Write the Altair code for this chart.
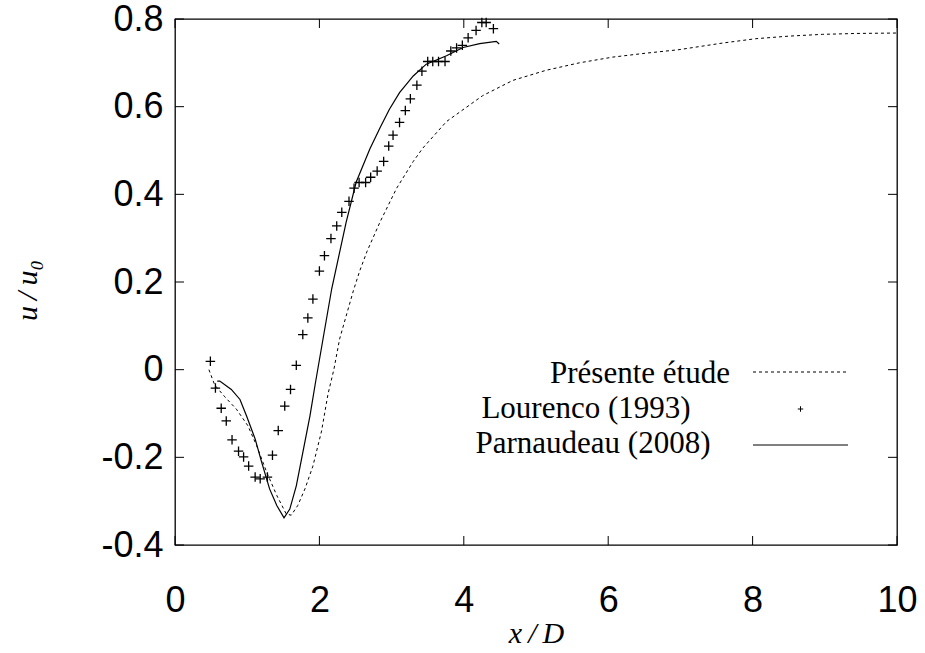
import altair as alt
import pandas as pd

# ---- data ----
present_x = [0.47, 0.55, 0.69, 0.85, 1.01, 1.13, 1.27, 1.41, 1.54, 1.61, 1.70, 1.80, 1.91,
             2.03, 2.12, 2.20, 2.28, 2.47, 2.56, 2.66, 2.84, 3.07, 3.30, 3.43, 3.76, 4.26,
             4.68, 5.14, 5.60, 6.06, 6.52, 6.98, 7.58, 8.04, 8.51, 8.97, 9.43, 10.0]
present_y = [0.000, -0.035, -0.062, -0.090, -0.128, -0.173, -0.234, -0.287, -0.329, -0.332,
             -0.310, -0.272, -0.220, -0.140, -0.055, 0.000, 0.070, 0.180, 0.226, 0.270,
             0.337, 0.414, 0.475, 0.505, 0.566, 0.625, 0.660, 0.683, 0.700, 0.713, 0.722,
             0.730, 0.745, 0.755, 0.761, 0.765, 0.767, 0.768]

parn_x = [0.585, 0.62, 0.78, 0.90, 0.99, 1.11, 1.20, 1.31, 1.41, 1.51, 1.59, 1.68, 1.77,
          1.87, 1.94, 2.05, 2.17, 2.37, 2.51, 2.70, 2.84, 2.97, 3.11, 3.30, 3.48, 3.76,
          3.99, 4.22, 4.45, 4.49]
parn_y = [-0.026, -0.026, -0.045, -0.068, -0.105, -0.158, -0.211, -0.272, -0.310, -0.338,
          -0.318, -0.265, -0.189, -0.105, -0.035, 0.070, 0.184, 0.336, 0.428, 0.504, 0.552,
          0.594, 0.632, 0.670, 0.697, 0.716, 0.735, 0.744, 0.749, 0.743]

lour_x = [0.49, 0.56, 0.64, 0.71, 0.79, 0.88, 0.95, 1.02, 1.11, 1.18, 1.28, 1.35, 1.43,
          1.52, 1.60, 1.68, 1.77, 1.84, 1.91, 2.00, 2.07, 2.16, 2.24, 2.31, 2.41, 2.48,
          2.55, 2.64, 2.71, 2.80, 2.89, 2.96, 3.02, 3.11, 3.19, 3.26, 3.35, 3.42, 3.50,
          3.57, 3.65, 3.74, 3.82, 3.90, 3.98, 4.06, 4.17, 4.25, 4.31, 4.41]
lour_y = [0.019, -0.042, -0.088, -0.117, -0.160, -0.186, -0.199, -0.220, -0.245, -0.249,
          -0.245, -0.195, -0.139, -0.083, -0.045, 0.010, 0.080, 0.118, 0.161, 0.225, 0.260,
          0.299, 0.328, 0.359, 0.384, 0.414, 0.427, 0.427, 0.439, 0.453, 0.475, 0.510,
          0.535, 0.564, 0.591, 0.618, 0.649, 0.681, 0.703, 0.703, 0.703, 0.703, 0.727,
          0.734, 0.740, 0.757, 0.774, 0.792, 0.792, 0.778]

x_ticks = [0, 2, 4, 6, 8, 10]
y_ticks = [-0.4, -0.2, 0.0, 0.2, 0.4, 0.6, 0.8]
legend_labels = ["Présente étude", "Lourenco (1993)", "Parnaudeau (2008)"]

# ---- layout ----
W, H = 722, 526
PL, PT = 175, 19
SANS = "Liberation Sans"
SERIF = "Liberation Serif"
PLUS = "M-1,0L1,0M0,-1L0,1"
THIN = "\u2009"

xs = alt.Scale(domain=[0, 10], nice=False, zero=False)
ys = alt.Scale(domain=[-0.4, 0.8], nice=False, zero=False)

df_p = pd.DataFrame({"x": present_x, "y": present_y})
df_n = pd.DataFrame({"x": parn_x, "y": parn_y})
df_l = pd.DataFrame({"x": lour_x, "y": lour_y})

x_axis = alt.Axis(values=x_ticks, ticks=False, domain=False, grid=False,
                  labelFont=SANS, labelFontSize=36, labelColor="black", labelPadding=38,
                  labelFlush=False,
                  title="x" + THIN + "/" + THIN + "D", titleFont=SERIF, titleFontStyle="italic",
                  titleFontWeight="normal", titleFontSize=30, titleColor="black",
                  titleBaseline="middle", titleY=88)
y_axis = alt.Axis(values=y_ticks, ticks=False, domain=False, grid=False,
                  labelFont=SANS, labelFontSize=36, labelColor="black", labelPadding=12,
                  labelFlush=False,
                  labelExpr="datum.value == 0 ? '0' : replace(format(datum.value, '.1f'), '\u2212', '-')",
                  title="u" + THIN + "/" + THIN + "u\u2080", titleFont=SERIF, titleFontStyle="italic",
                  titleFontWeight="normal", titleFontSize=30, titleColor="black",
                  titleAngle=270, titleAlign="center", titleBaseline="middle",
                  titleX=27 - PL, titleY=290 - PT)

def X(field):
    return alt.X(field, scale=xs, axis=x_axis)

def Y(field):
    return alt.Y(field, scale=ys, axis=y_axis)

present = alt.Chart(df_p).mark_line(color="black", strokeWidth=1, strokeDash=[3, 3]).encode(
    x=X("x:Q"), y=Y("y:Q"))
parn = alt.Chart(df_n).mark_line(color="black", strokeWidth=1.2).encode(
    x=X("x:Q"), y=Y("y:Q"))
lour = alt.Chart(df_l).mark_point(shape=PLUS, size=90, color="black", filled=False,
                                  strokeWidth=1.3, opacity=1).encode(
    x=X("x:Q"), y=Y("y:Q"))

# inward mirrored ticks
TK = 9
df_yt = pd.DataFrame({"y": y_ticks})
df_xt = pd.DataFrame({"x": x_ticks})
tick_style = dict(color="black", strokeWidth=1)
yt_left = alt.Chart(df_yt).mark_rule(**tick_style).encode(
    y=Y("y:Q"), x=alt.value(0), x2=alt.value(TK))
yt_right = alt.Chart(df_yt).mark_rule(**tick_style).encode(
    y=Y("y:Q"), x=alt.value(W - TK), x2=alt.value(W))
xt_bot = alt.Chart(df_xt).mark_rule(**tick_style).encode(
    x=X("x:Q"), y=alt.value(H - TK), y2=alt.value(H))
xt_top = alt.Chart(df_xt).mark_rule(**tick_style).encode(
    x=X("x:Q"), y=alt.value(0), y2=alt.value(TK))

# manual legend (labels to the left of the samples, as in the reference)
text_cx = [640 - PL, 586 - PL, 593 - PL]
text_base = [383 - PT, 418 - PT, 453 - PT]
sample_y = [372 - PT, 409 - PT, 445 - PT]
LX0, LX1 = 753 - PL, 848 - PL
legend_layers = []
for i, lab in enumerate(legend_labels):
    legend_layers.append(
        alt.Chart(pd.DataFrame({"t": [lab]})).mark_text(
            align="center", baseline="alphabetic", font=SERIF, fontSize=31, color="black"
        ).encode(text="t:N", x=alt.value(text_cx[i]), y=alt.value(text_base[i]))
    )
legend_layers.append(
    alt.Chart(pd.DataFrame({"t": [legend_labels[0]]})).mark_rule(
        color="black", strokeWidth=1, strokeDash=[3, 3]
    ).encode(x=alt.value(LX0), x2=alt.value(LX1), y=alt.value(sample_y[0]))
)
legend_layers.append(
    alt.Chart(pd.DataFrame({"t": [legend_labels[1]]})).mark_point(
        shape=PLUS, size=30, color="black", filled=False, strokeWidth=1, opacity=1
    ).encode(x=alt.value((LX0 + LX1) / 2), y=alt.value(sample_y[1]))
)
legend_layers.append(
    alt.Chart(pd.DataFrame({"t": [legend_labels[2]]})).mark_rule(
        color="black", strokeWidth=1
    ).encode(x=alt.value(LX0), x2=alt.value(LX1), y=alt.value(sample_y[2]))
)

chart = alt.layer(
    present, parn, lour, yt_left, yt_right, xt_bot, xt_top, *legend_layers
).properties(
    width=W, height=H,
    autosize=alt.AutoSizeParams(type="none"),
    padding={"left": PL, "top": PT, "right": 925 - PL - W, "bottom": 653 - PT - H},
    background="white",
).configure_view(stroke="black", strokeWidth=1.3)

chart.save("out.html", embed_options={"renderer": "svg", "actions": False})
